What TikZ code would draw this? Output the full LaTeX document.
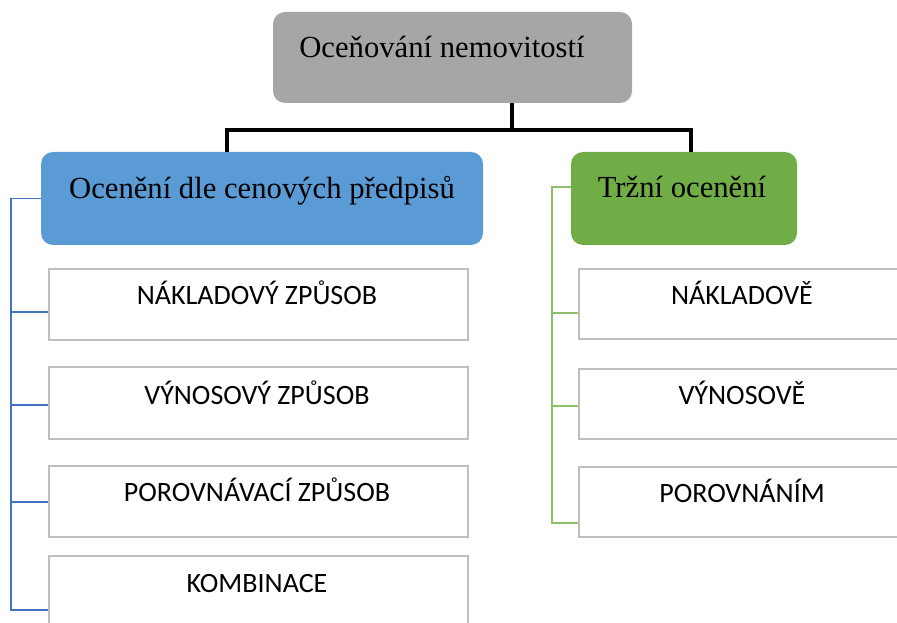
\documentclass[tikz,border=0pt]{standalone}
\usepackage{fontspec}
\setmainfont{Liberation Serif}
\newfontfamily\calib{Carlito}
\definecolor{topgray}{HTML}{A6A6A6}
\definecolor{blfill}{HTML}{5B9BD5}
\definecolor{grfill}{HTML}{70AD47}
\definecolor{blline}{HTML}{4472C4}
\definecolor{grline}{HTML}{8DBF6A}
\definecolor{boxline}{HTML}{BFBFBF}
\tikzset{
  headbox/.style={draw=none, rounded corners=9pt, inner sep=0pt},
  childbox/.style={draw=boxline, line width=0.9pt, fill=white, inner sep=0pt},
  headtxt/.style={anchor=base, inner sep=0pt, font=\fontsize{23}{27}\selectfont},
  childtxt/.style={anchor=base, inner sep=0pt, font=\calib\fontsize{21}{25}\selectfont},
  blk/.style={draw=black, line width=2.5pt},
  blconn/.style={draw=blline, line width=0.8pt},
  grconn/.style={draw=grline, line width=0.8pt},
}
\begin{document}
\begin{tikzpicture}[x=0.75pt,y=-0.75pt]
\useasboundingbox (0,0) rectangle (897,623);
\clip (0,0) rectangle (897,623);
% head boxes
\node[headbox, fill=topgray, minimum width=359*0.75pt, minimum height=91*0.75pt] (top) at (452.5,57.5) {};
\node[headbox, fill=blfill, minimum width=442*0.75pt, minimum height=93*0.75pt] (blue) at (262,198.5) {};
\node[headbox, fill=grfill, minimum width=226*0.75pt, minimum height=93*0.75pt] (green) at (684,198.5) {};
% child boxes left
\node[childbox, minimum width=419*0.75pt, minimum height=71*0.75pt] (c1) at (258.5,304.5) {};
\node[childbox, minimum width=419*0.75pt, minimum height=72*0.75pt] (c2) at (258.5,403) {};
\node[childbox, minimum width=419*0.75pt, minimum height=71*0.75pt] (c3) at (258.5,501.5) {};
\node[childbox, minimum width=419*0.75pt, minimum height=71*0.75pt] (c4) at (258.5,591.5) {};
% child boxes right
\node[childbox, minimum width=326*0.75pt, minimum height=70*0.75pt] (d1) at (742,304) {};
\node[childbox, minimum width=326*0.75pt, minimum height=70*0.75pt] (d2) at (742,404) {};
\node[childbox, minimum width=326*0.75pt, minimum height=70*0.75pt] (d3) at (742,502) {};
% texts
\node[headtxt] (ttop) at (442,58) {Oceňování nemovitostí};
\node[headtxt] (tblue) at (262,199) {Ocenění dle cenových předpisů};
\node[headtxt] (tgreen) at (682,198) {Tržní ocenění};
\node[childtxt] (tc1) at (257,305) {NÁKLADOVÝ ZPŮSOB};
\node[childtxt] (tc2) at (257,405) {VÝNOSOVÝ ZPŮSOB};
\node[childtxt] (tc3) at (257,502) {POROVNÁVACÍ ZPŮSOB};
\node[childtxt] (tc4) at (257,593) {KOMBINACE};
\node[childtxt] (td1) at (742,305) {NÁKLADOVĚ};
\node[childtxt] (td2) at (742,405) {VÝNOSOVĚ};
\node[childtxt] (td3) at (742,503) {POROVNÁNÍM};
% black connectors
\draw[blk] (top.south -| 512,0) -- (512,130) coordinate (hub);
\draw[blk] (blue.north -| 227,0) |- (hub) -| (green.north -| 691,0);
% blue tree
\draw[blconn] (blue.west) -- (11,198.5) coordinate (bt) -- (11,610) coordinate (bb) -- (c4.west |- bb);
\draw[blconn] (11,312) -- (c1.west |- 0,312);
\draw[blconn] (11,405) -- (c2.west |- 0,405);
\draw[blconn] (11,502) -- (c3.west |- 0,502);
% green tree
\draw[grconn] (green.west |- 0,187) -- (552,187) -- (552,523) -- (d3.west |- 0,523);
\draw[grconn] (552,313) -- (d1.west |- 0,313);
\draw[grconn] (552,406) -- (d2.west |- 0,406);
\end{tikzpicture}
\end{document}
